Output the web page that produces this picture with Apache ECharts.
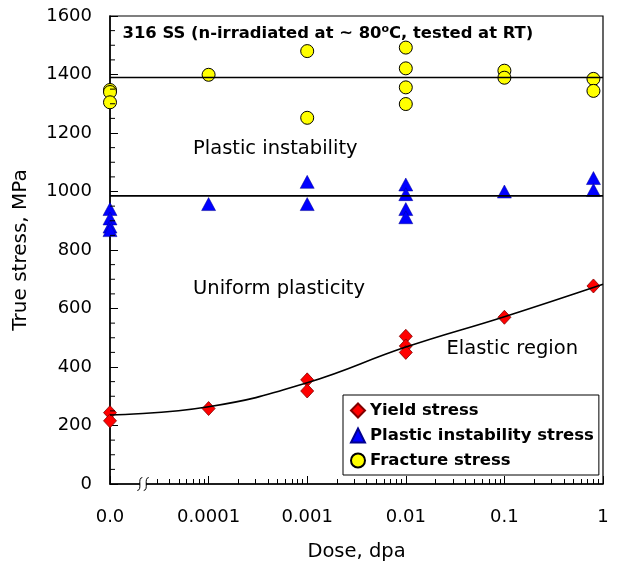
<!DOCTYPE html>
<html><head><meta charset="utf-8">
<script src="https://cdn.jsdelivr.net/npm/echarts@6/dist/echarts.min.js"></script>
<style>html,body{margin:0;padding:0;background:#fff}#c{width:617px;height:566px}</style>
</head><body><div id="c"></div>
<script>
// ---- data (dose in dpa; 0 is drawn at the "0.0" position left of the axis break) ----
const xTickLabels = ['0.0', '0.0001', '0.001', '0.01', '0.1', '1'];
const yieldDose = [0, 0, 0.0001, 0.001, 0.001, 0.01, 0.01, 0.01, 0.1, 0.8];
const yieldStress = [244, 216, 258, 356, 318, 505, 472, 450, 570, 677];
const instabilityDose = [0, 0, 0, 0, 0.0001, 0.001, 0.001, 0.01, 0.01, 0.01, 0.01, 0.1, 0.8, 0.8];
const instabilityStress = [940, 908, 880, 868, 957, 1033, 957, 1024, 991, 940, 912, 1000, 1046, 1005];
const fractureDose = [0, 0, 0, 0.0001, 0.001, 0.001, 0.01, 0.01, 0.01, 0.01, 0.1, 0.1, 0.8, 0.8];
const fractureStress = [1347, 1340, 1305, 1399, 1480, 1252, 1492, 1421, 1356, 1299, 1413, 1389, 1385, 1344];
const fitDose = [0, 0.0001, 0.001, 0.01, 0.1, 1];
const fitStress = [236, 264, 346, 468, 572, 683];
const fractureLevel = 1390;
const instabilityLevel = 985;

const FONT = 'DejaVu Sans';
function pos(d) { return d === 0 ? -5 : Math.log10(d); }
function pairs(ds, vs) { return ds.map((d, i) => [pos(d), vs[i]]); }
const minorTicks = [];
for (let dec = -5; dec < 0; dec++) {
  for (let k = 2; k <= 9; k++) {
    if (dec === -5 && k < 3) continue; // hidden by the axis break
    minorTicks.push(dec + Math.log10(k));
  }
}
const yMinorTicks = [];
for (let v = 50; v < 1600; v += 50) if (v % 200 !== 0) yMinorTicks.push(v);

const chart = echarts.init(document.getElementById('c'), null, { renderer: 'canvas' });
const axisText = { fontFamily: FONT, fontSize: 18, color: '#000' };
const nameText = { fontFamily: FONT, fontSize: 19.5, color: '#000' };
chart.setOption({
  animation: false,
  backgroundColor: '#fff',
  grid: { left: 110, right: 14, top: 16, bottom: 82, outerBoundsMode: 'none', containLabel: false,
          show: true, borderColor: '#000', borderWidth: 1.2, backgroundColor: 'transparent' },
  xAxis: [{
    type: 'value', min: -5, max: 0, interval: 1, position: 'bottom',
    name: 'Dose, dpa', nameLocation: 'middle', nameGap: 58, nameTextStyle: nameText,
    axisLine: { show: true, onZero: false, lineStyle: { color: '#000', width: 1.5 } },
    axisTick: { show: true, inside: true, length: 8, lineStyle: { color: '#000', width: 1 } },
    axisLabel: Object.assign({ margin: 24, formatter: v => xTickLabels[Math.round(v + 5)] }, axisText),
    splitLine: { show: false }
  }, {
    type: 'value', min: -5, max: 0, position: 'bottom',
    axisLine: { show: false },
    axisTick: { show: true, inside: true, length: 5, customValues: minorTicks, lineStyle: { color: '#000', width: 1 } },
    axisLabel: { show: false },
    splitLine: { show: false }
  }],
  yAxis: {
    type: 'value', min: 0, max: 1600, interval: 200,
    name: 'True stress, MPa', nameLocation: 'middle', nameGap: 79, nameTextStyle: Object.assign({}, nameText, { fontSize: 20 }),
    axisLine: { show: true, onZero: false, lineStyle: { color: '#000', width: 1.5 } },
    axisTick: { show: true, inside: true, length: 8, lineStyle: { color: '#000', width: 1 } },
    axisLabel: Object.assign({ margin: 18, formatter: v => String(v) }, axisText),
    splitLine: { show: false }
  },
  legend: {
    orient: 'vertical', left: 343, top: 395, padding: [7, 5, 6, 7], itemGap: 8,
    itemWidth: 14, itemHeight: 14, borderColor: '#000', borderWidth: 1, backgroundColor: '#fff',
    selectedMode: false,
    textStyle: { fontFamily: FONT, fontWeight: 'bold', fontSize: 16.5, color: '#000' },
    data: [
      { name: 'Yield stress', icon: 'diamond' },
      { name: 'Plastic instability stress', icon: 'triangle' },
      { name: 'Fracture stress', icon: 'circle' }
    ]
  },
  series: [
    { name: 'Yield stress', type: 'scatter', symbol: 'diamond', symbolSize: [13, 14], z: 2,
      itemStyle: { color: '#ff0000', borderColor: '#800000', borderWidth: 0.8, opacity: 1 },
      data: pairs(yieldDose, yieldStress) },
    { name: 'Plastic instability stress', type: 'scatter', symbol: 'triangle', symbolSize: [14, 13], z: 2,
      itemStyle: { color: '#0000ff', borderColor: '#000090', borderWidth: 0.5, opacity: 1 },
      data: pairs(instabilityDose, instabilityStress) },
    { name: 'Fracture stress', type: 'scatter', symbol: 'circle', symbolSize: 13, z: 2,
      itemStyle: { color: '#ffff00', borderColor: '#000', borderWidth: 1, opacity: 1 },
      data: pairs(fractureDose, fractureStress) },
    { name: 'fit', type: 'line', smooth: 0.45, symbol: 'none', z: 4, silent: true,
      lineStyle: { color: '#000', width: 1.6 }, data: pairs(fitDose, fitStress) },
    { name: 'fractureLevel', type: 'line', symbol: 'none', z: 4, silent: true,
      lineStyle: { color: '#000', width: 1.6 }, data: [[-5, fractureLevel], [0, fractureLevel]] },
    { name: 'instabilityLevel', type: 'line', symbol: 'none', z: 4, silent: true,
      lineStyle: { color: '#000', width: 1.6 }, data: [[-5, instabilityLevel], [0, instabilityLevel]] },
    { // minor ticks of the stress axis, pointing into the plot
      name: 'yMinorTicks', type: 'custom', silent: true, z: 3, clip: false,
      data: yMinorTicks.map(v => [-5, v]),
      renderItem: (params, api) => {
        const p = api.coord([api.value(0), api.value(1)]);
        return { type: 'line', shape: { x1: p[0], y1: p[1], x2: p[0] + 5, y2: p[1] }, style: { stroke: '#000', lineWidth: 1 } };
      }
    }
  ]
});

// decorations: title, region labels, axis break
const bx = chart.convertToPixel({ xAxisIndex: 0 }, -4.665);
const by = chart.convertToPixel({ yAxisIndex: 0 }, 0);
function sCurve(cx) {
  return { type: 'bezierCurve', z: 100,
    shape: { x1: cx - 2.5, y1: by + 6.5, cpx1: cx + 3, cpy1: by + 6, cpx2: cx - 3, cpy2: by - 6, x2: cx + 2.5, y2: by - 6.5 },
    style: { stroke: '#000', lineWidth: 1, fill: null } };
}
chart.setOption({
  graphic: [
    { type: 'rect', z: 99, shape: { x: bx - 3, y: by - 4, width: 6, height: 8 }, style: { fill: '#fff' } },
    sCurve(bx - 3.2), sCurve(bx + 3.2),
    { type: 'text', z: 100, style: {
        x: 122.5, y: 33.5, verticalAlign: 'middle',
        text: '{b|316 SS (n-irradiated at ~ 80}{s|o}{b|C, tested at RT)}',
        rich: {
          b: { fontFamily: FONT, fontWeight: 'bold', fontSize: 16.4, lineHeight: 20, fill: '#000' },
          s: { fontFamily: FONT, fontWeight: 'bold', fontSize: 11, verticalAlign: 'top', fill: '#000' }
        } } },
    { type: 'text', z: 100, style: { x: 193, y: 149, verticalAlign: 'middle', text: 'Plastic instability', fontFamily: FONT, fontSize: 19.5, fill: '#000' } },
    { type: 'text', z: 100, style: { x: 193, y: 289, verticalAlign: 'middle', text: 'Uniform plasticity', fontFamily: FONT, fontSize: 19.5, fill: '#000' } },
    { type: 'text', z: 100, style: { x: 446.5, y: 349, verticalAlign: 'middle', text: 'Elastic region', fontFamily: FONT, fontSize: 19.5, fill: '#000' } }
  ]
});
</script>
</body></html>
